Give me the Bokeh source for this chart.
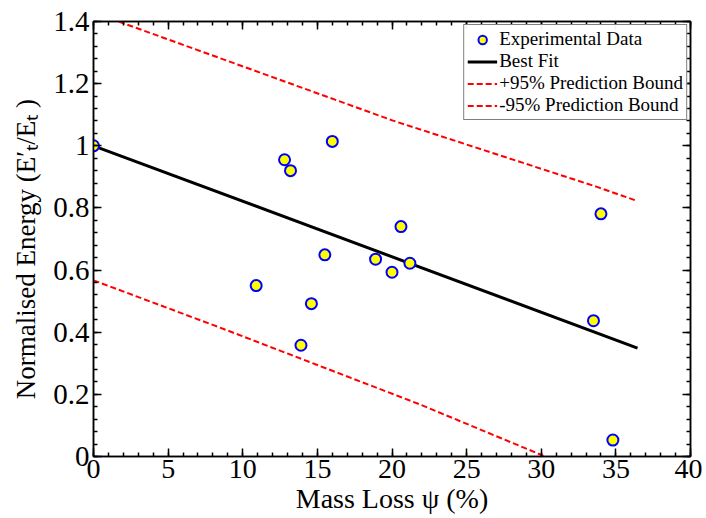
import numpy as np
from bokeh.plotting import figure
from bokeh.models import (Range1d, LinearAxis, FixedTicker, CustomJSTickFormatter,
                          Legend, LegendItem, ColumnDataSource)
from bokeh.embed import file_html
from bokeh.resources import INLINE

# Data
mass_loss = [0.0, 12.8, 13.2, 16.0, 20.6, 15.5, 18.9, 21.2, 20.0, 10.9, 14.6, 13.9, 34.0, 33.5, 34.8]
energy = [1.0, 0.955, 0.920, 1.014, 0.740, 0.649, 0.635, 0.622, 0.593, 0.550, 0.492, 0.358, 0.781, 0.437, 0.053]

fit_x = [0.0, 36.45]
fit_y = [1.0, 0.349]

upper_x = [0.0, 20.07, 33.78, 36.45]
upper_y = [1.429, 1.081, 0.867, 0.822]

lower_x = [0.0, 8.47, 21.85, 30.26, 36.45]
lower_y = [0.567, 0.415, 0.168, 0.0, -0.125]

x_ticks = [0, 5, 10, 15, 20, 25, 30, 35, 40]
y_ticks = [0, 0.2, 0.4, 0.6, 0.8, 1.0, 1.2, 1.4]
x_minor = [float(v) for v in range(0, 41)]
y_minor = [round(v, 2) for v in np.arange(0, 1.4001, 0.04)]

FONT = "Liberation Serif"

p = figure(width=702, height=516, output_backend="svg", toolbar_location=None,
           x_range=Range1d(0, 40), y_range=Range1d(0, 1.4),
           min_border_left=93, min_border_right=12, min_border_top=21, min_border_bottom=60)
p.xgrid.visible = False
p.ygrid.visible = False
p.outline_line_color = "black"
p.outline_line_width = 1.5

fmt = CustomJSTickFormatter(code="return Number(tick.toFixed(2)).toString();")
blank = CustomJSTickFormatter(code="return '';")

def style_axis(ax, labels=True):
    ax.axis_line_color = "black"
    ax.axis_line_width = 1.5
    ax.major_tick_in = 8
    ax.major_tick_out = 0
    ax.minor_tick_in = 4
    ax.minor_tick_out = 0
    ax.major_tick_line_color = "black"
    ax.minor_tick_line_color = "black"
    ax.major_tick_line_width = 1.5
    ax.minor_tick_line_width = 1.5
    ax.major_label_text_font = FONT
    ax.major_label_text_font_size = "28px" if labels else "2px"
    ax.major_label_text_color = "black"
    ax.axis_label_text_font = FONT
    ax.axis_label_text_font_size = "28px"
    ax.axis_label_text_font_style = "normal"
    ax.axis_label_text_color = "black"
    ax.major_label_standoff = 3 if labels else 0
    ax.axis_label_standoff = 2

xa = p.xaxis[0]
xa.ticker = FixedTicker(ticks=x_ticks, minor_ticks=x_minor)
xa.axis_label = "Mass Loss ψ (%)"
style_axis(xa)

ya = p.yaxis[0]
ya.ticker = FixedTicker(ticks=y_ticks, minor_ticks=y_minor)
ya.formatter = fmt
ya.axis_label = "Normalised Energy (E′ₜ/Eₜ )\u00a0\u00a0\u00a0"
style_axis(ya)
ya.major_label_text_font_size = "29px"
ya.major_label_standoff = 4
ya.axis_label_text_font_size = "27px"
ya.axis_label_standoff = 9

top_ax = LinearAxis(ticker=FixedTicker(ticks=x_ticks, minor_ticks=x_minor), formatter=blank)
style_axis(top_ax, labels=False)
p.add_layout(top_ax, "above")
right_ax = LinearAxis(ticker=FixedTicker(ticks=y_ticks, minor_ticks=y_minor), formatter=blank)
style_axis(right_ax, labels=False)
p.add_layout(right_ax, "right")

src = ColumnDataSource(data=dict(x=mass_loss, y=energy))

r_up = p.line(upper_x, upper_y, line_color="red", line_width=2, line_dash="6 3")
r_lo = p.line(lower_x, lower_y, line_color="red", line_width=2, line_dash="6 3")
r_fit = p.line(fit_x, fit_y, line_color="black", line_width=3)
r_pts = p.scatter("x", "y", source=src, size=11, fill_color="yellow",
                  line_color="blue", line_width=2)

legend = Legend(items=[
    LegendItem(label="Experimental Data", renderers=[r_pts]),
    LegendItem(label="Best Fit", renderers=[r_fit]),
    LegendItem(label="+95% Prediction Bound", renderers=[r_up]),
    LegendItem(label="-95% Prediction Bound", renderers=[r_lo]),
], location="top_right")
legend.label_text_font = FONT
legend.label_text_font_size = "19px"
legend.label_text_color = "black"
legend.border_line_color = "black"
legend.border_line_width = 1
legend.margin = 3
legend.padding = 3
legend.spacing = 0
legend.label_height = 21
legend.glyph_height = 21
legend.glyph_width = 30
legend.label_standoff = 2
p.add_layout(legend)

open("out.html", "w").write(file_html(p, INLINE))
